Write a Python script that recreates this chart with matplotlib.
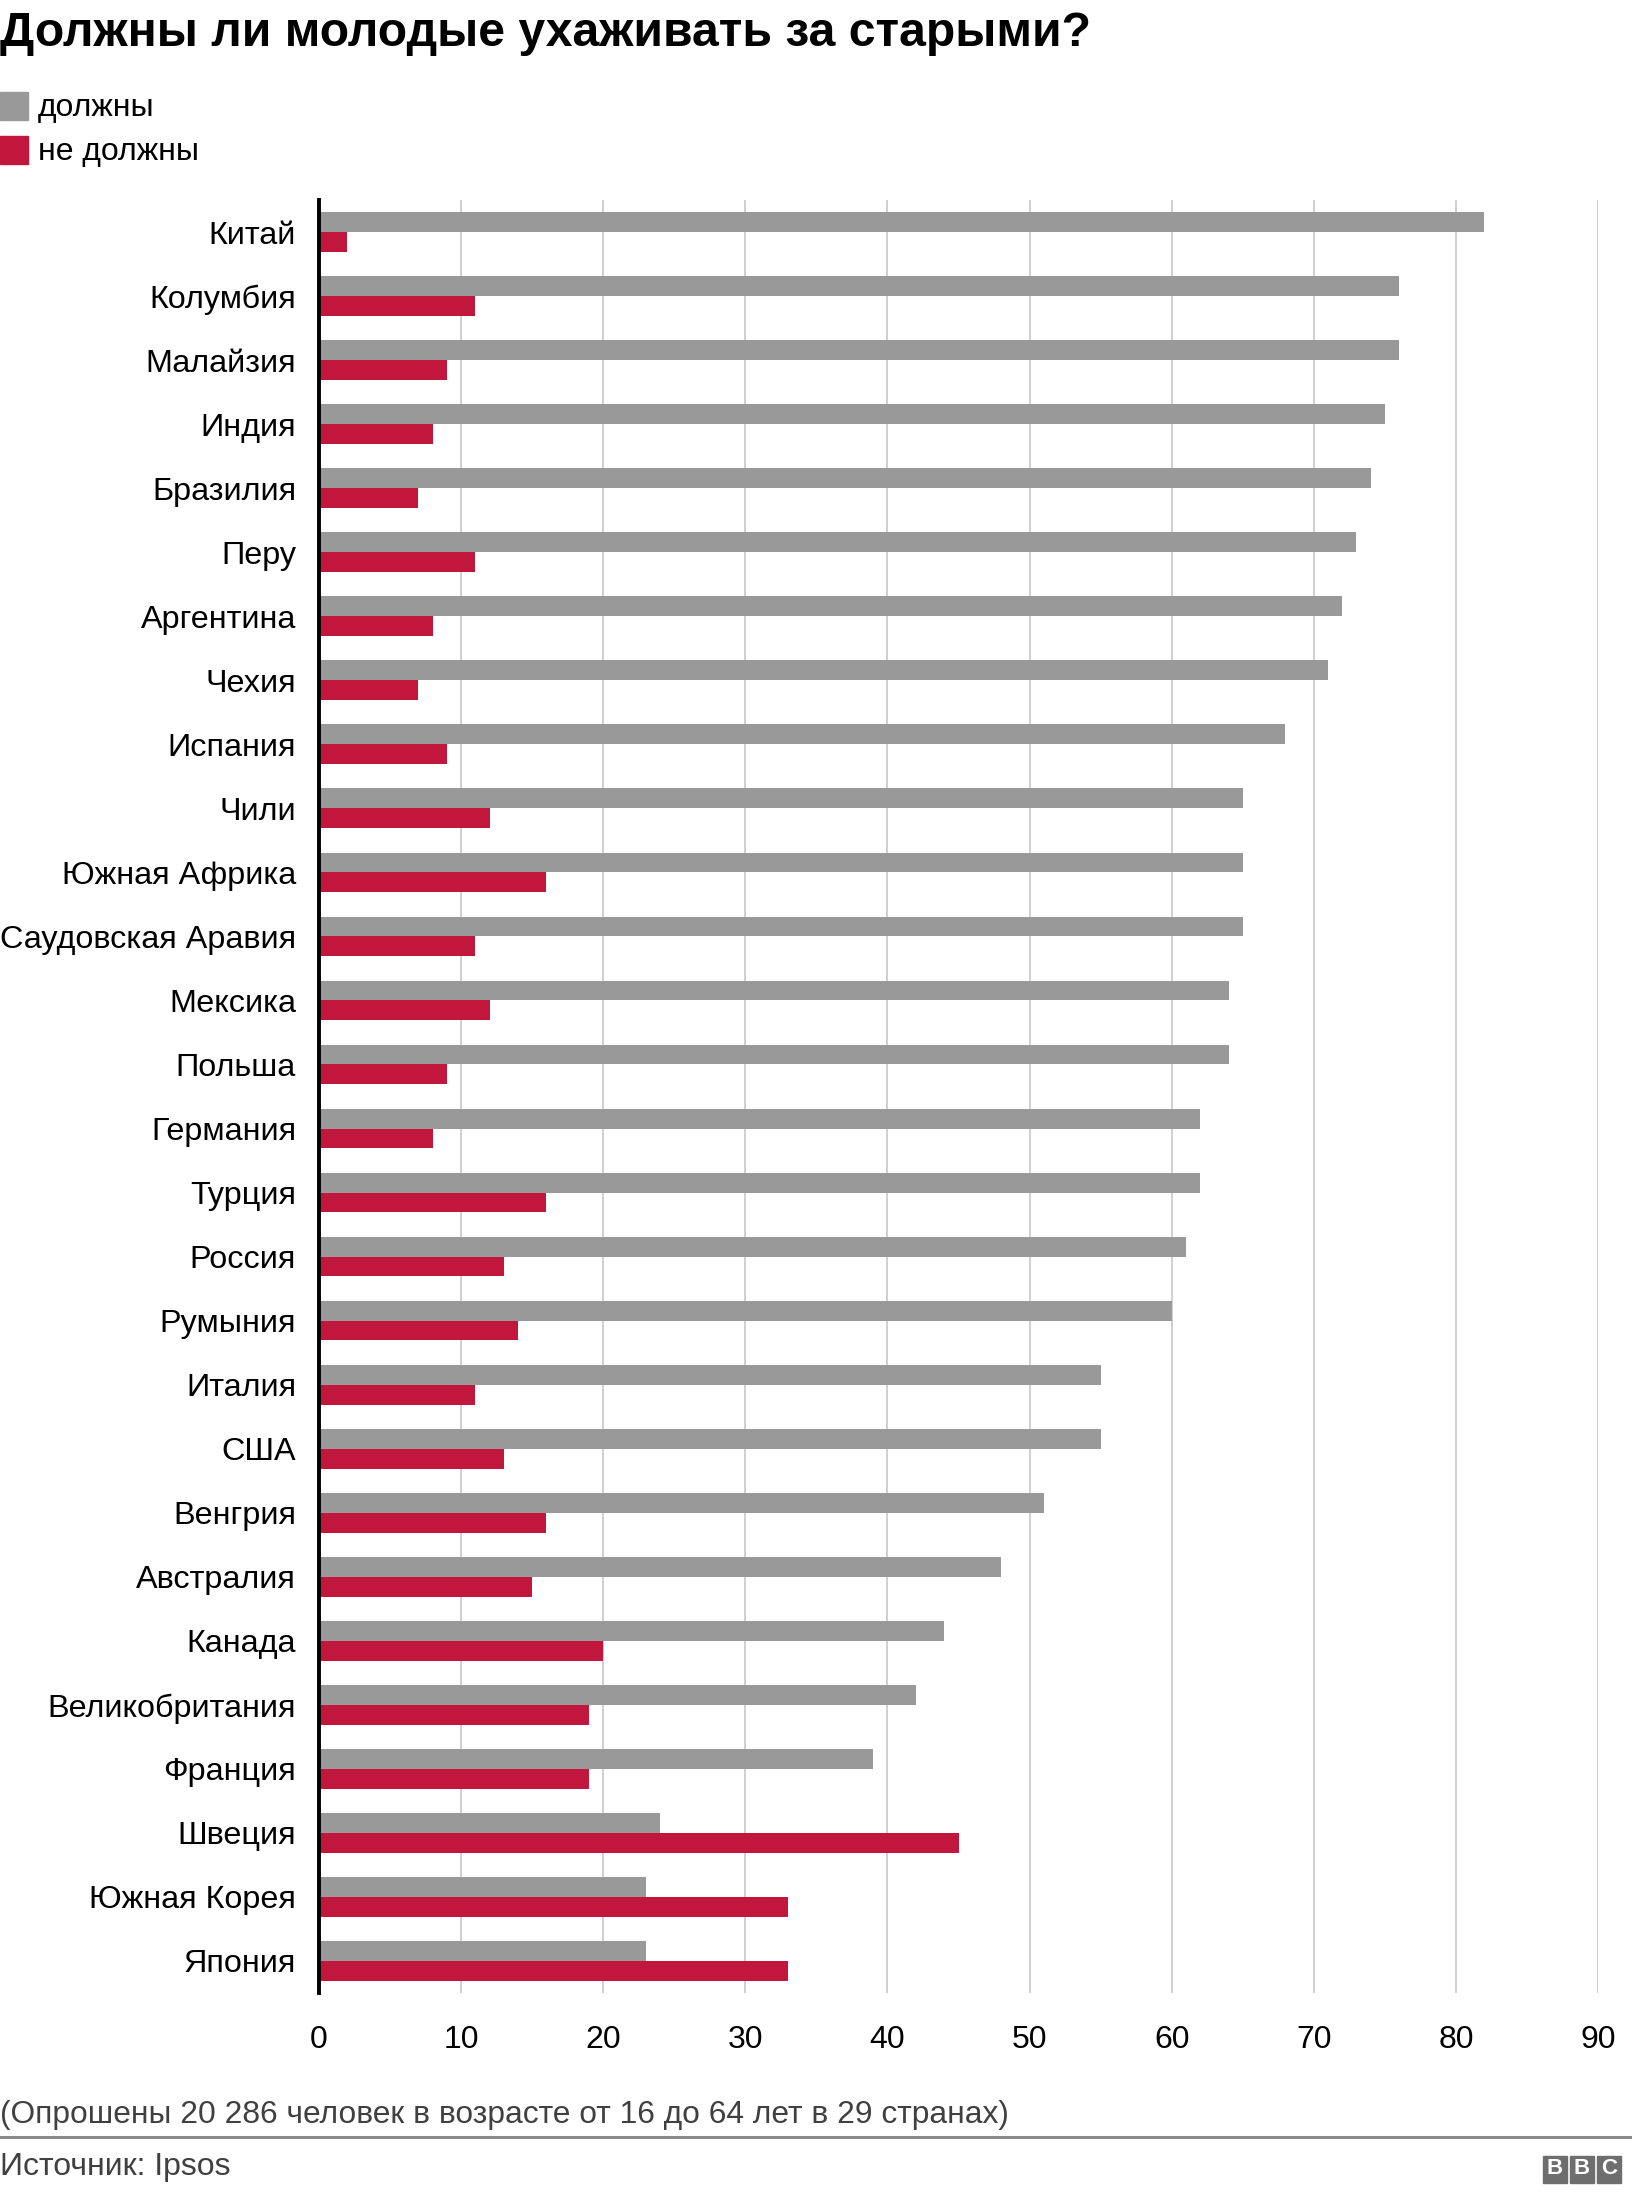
import numpy as np
import matplotlib.pyplot as plt
from matplotlib.patches import Rectangle

plt.rcParams['font.family'] = ['Liberation Sans', 'DejaVu Sans']

countries = ['Китай', 'Колумбия', 'Малайзия', 'Индия', 'Бразилия', 'Перу',
             'Аргентина', 'Чехия', 'Испания', 'Чили', 'Южная Африка',
             'Саудовская Аравия', 'Мексика', 'Польша', 'Германия', 'Турция',
             'Россия', 'Румыния', 'Италия', 'США', 'Венгрия', 'Австралия',
             'Канада', 'Великобритания', 'Франция', 'Швеция', 'Южная Корея',
             'Япония']
should = [82, 76, 76, 75, 74, 73, 72, 71, 68, 65, 65, 65, 64, 64, 62, 62,
          61, 60, 55, 55, 51, 48, 44, 42, 39, 24, 23, 23]
should_not = [2, 11, 9, 8, 7, 11, 8, 7, 9, 12, 16, 11, 12, 9, 8, 16,
              13, 14, 11, 13, 16, 15, 20, 19, 19, 45, 33, 33]
series_names = ['должны', 'не должны']
xticks = [0, 10, 20, 30, 40, 50, 60, 70, 80, 90]

grey = '#999999'
red = '#c2173c'

W, H = 1632, 2192
fig = plt.figure(figsize=(W / 100, H / 100), dpi=100)

ax = fig.add_axes([319 / W, 1 - 1993 / H, (1598 - 319) / W, (1993 - 200) / H])
y = np.arange(len(countries))
bh = 0.31
ax.barh(y - bh / 2, should, height=bh, color=grey, zorder=3)
ax.barh(y + bh / 2, should_not, height=bh, color=red, zorder=3)

ax.set_xlim(0, 90)
ax.set_ylim(len(countries) - 0.5, -0.5)
ax.set_xticks(xticks)
ax.set_xticklabels([str(t) for t in xticks], fontsize=23)
ax.set_yticks(y)
ax.set_yticklabels(countries, fontsize=23.3)
ax.tick_params(axis='x', length=0, pad=23)
ax.tick_params(axis='y', length=0, pad=16.5)
ax.grid(axis='x', color='#cccccc', lw=1.3, zorder=0)
for s in ['top', 'right', 'bottom']:
    ax.spines[s].set_visible(False)
ax.spines['left'].set_color('black')
ax.spines['left'].set_linewidth(2.8)
ax.spines['left'].set_zorder(4)

# title
fig.text(0, 1 - 33 / H, 'Должны ли молодые ухаживать за старыми?', fontsize=34.7,
         fontweight='bold', ha='left', va='center')

# legend
for k, (name, col) in enumerate(zip(series_names, [grey, red])):
    yc = 106 + k * 44
    fig.patches.append(Rectangle((0, 1 - (yc + 14) / H), 28 / W, 28 / H,
                                 transform=fig.transFigure, color=col))
    fig.text(38 / W, 1 - (yc + 2) / H, name, fontsize=23, ha='left', va='center')

# footnote and source
fig.text(0, 1 - 2115 / H, '(Опрошены 20 286 человек в возрасте от 16 до 64 лет в 29 странах)',
         fontsize=22.9, color='#404040', ha='left', va='center')
fig.add_artist(plt.Line2D([0, 1], [1 - 2137 / H, 1 - 2137 / H], color='#8a8a8a', lw=2.2,
                          transform=fig.transFigure))
fig.text(0, 1 - 2167 / H, 'Источник: Ipsos', fontsize=23, color='#404040',
         ha='left', va='center')

# BBC logo
for i, letter in enumerate('BBC'):
    x0 = 1543 + i * 27
    fig.patches.append(Rectangle((x0 / W, 1 - 2183 / H), 24 / W, 27 / H,
                                 transform=fig.transFigure, color='#6e6e6e'))
    fig.text((x0 + 12) / W, 1 - 2169 / H, letter, fontsize=16, fontweight='bold',
             color='white', ha='center', va='center')

fig.savefig('out.png', dpi=100)
